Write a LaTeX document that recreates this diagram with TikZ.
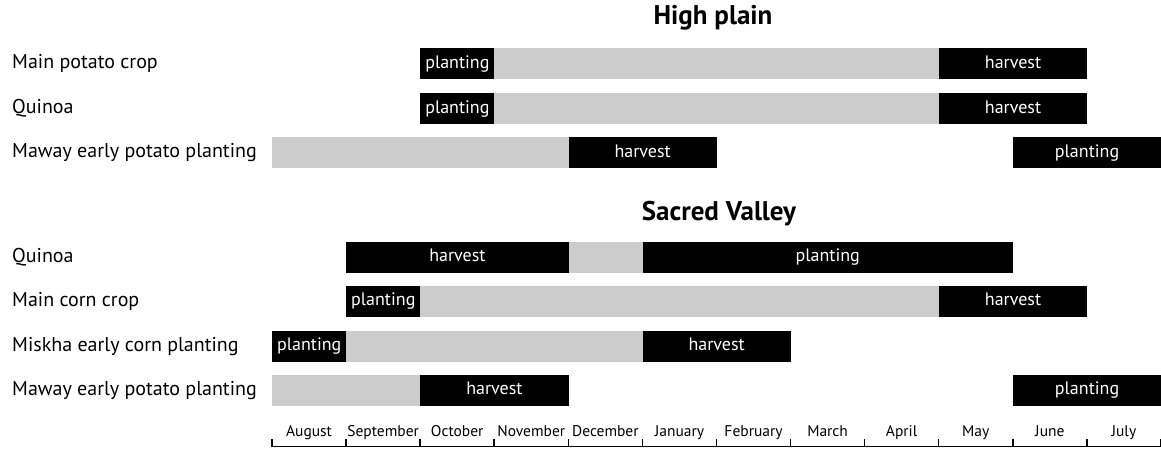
\documentclass[tikz,border=0pt]{standalone}
\usepackage{fontspec}
\setmainfont{PT Sans}
\usetikzlibrary{positioning}
\newcommand{\mx}[1]{272+#1*74.08}

\begin{document}
\begin{tikzpicture}[x=1pt, y=-1pt, font=\fontsize{20}{24}\selectfont,
  bar/.style={anchor=west, inner sep=0pt, minimum height=31pt, minimum width=#1*74.08pt,
    text height=0.72em+2pt, text depth=0pt},
  grey/.style={bar=#1, fill=black!20},
  blk/.style={bar=#1, fill=black, text=white, font=\fontsize{18}{21}\selectfont},
  crop/.style={anchor=west, inner sep=0pt, text height=0.7em+3pt, text depth=0pt},
  head/.style={font=\fontsize{27}{32}\selectfont\bfseries},
  month/.style={font=\fontsize{15.5}{18}\selectfont, text height=0.7em, text depth=0pt}]
\useasboundingbox (0,0) rectangle (1161,449);
% headings
\node[head] (high)   at (713,18)  {High plain};
\node[head] (sacred) at (719,214) {Sacred Valley};
% high plain
\node[crop] (lPot)   at (12,64)  {Main potato crop};
\node[crop] (lQui)   at (12,109) {Quinoa};
\node[crop] (lMaw)   at (12,153) {Maway early potato planting};
\node[blk=1]  (potP) at ({\mx{2}},64)  {planting};
\node[grey=6] (potG) at ({\mx{3}},64)  {};
\node[blk=2]  (potH) at ({\mx{9}},64)  {harvest};
\node[blk=1]  (quiP) at ({\mx{2}},109) {planting};
\node[grey=6] (quiG) at ({\mx{3}},109) {};
\node[blk=2]  (quiH) at ({\mx{9}},109) {harvest};
\node[grey=4] (mawG) at ({\mx{0}},153) {};
\node[blk=2]  (mawH) at ({\mx{4}},153) {harvest};
\node[blk=2]  (mawP) at ({\mx{10}},153) {planting};
% sacred valley
\node[crop] (lQuiV)  at (12,257) {Quinoa};
\node[crop] (lCorn)  at (12,301) {Main corn crop};
\node[crop] (lMisk)  at (12,346) {Miskha early corn planting};
\node[crop] (lMawV)  at (12,390) {Maway early potato planting};
\node[blk=3]  (quiVH) at ({\mx{1}},257) {harvest};
\node[grey=1] (quiVG) at ({\mx{4}},257) {};
\node[blk=5]  (quiVP) at ({\mx{5}},257) {planting};
\node[blk=1]  (cornP) at ({\mx{1}},301) {planting};
\node[grey=7] (cornG) at ({\mx{2}},301) {};
\node[blk=2]  (cornH) at ({\mx{9}},301) {harvest};
\node[blk=1]  (miskP) at ({\mx{0}},346) {planting};
\node[grey=4] (miskG) at ({\mx{1}},346) {};
\node[blk=2]  (miskH) at ({\mx{5}},346) {harvest};
\node[grey=2] (mawVG) at ({\mx{0}},390) {};
\node[blk=2]  (mawVH) at ({\mx{2}},390) {harvest};
\node[blk=2]  (mawVP) at ({\mx{10}},390) {planting};
% month axis
\draw[line width=1.5pt] ({\mx{0}},446.5) -- ({\mx{12}},446.5);
\foreach \k in {0,...,12}
  \draw[line width=1.5pt] ({\mx{\k}},439) -- ({\mx{\k}},446.5);
\foreach \m [count=\k from 0] in {August,September,October,November,December,January,February,March,April,May,June,July}
  \node[month] (m\k) at ({\mx{\k}+37.04},433) {\m};
\end{tikzpicture}
\end{document}
